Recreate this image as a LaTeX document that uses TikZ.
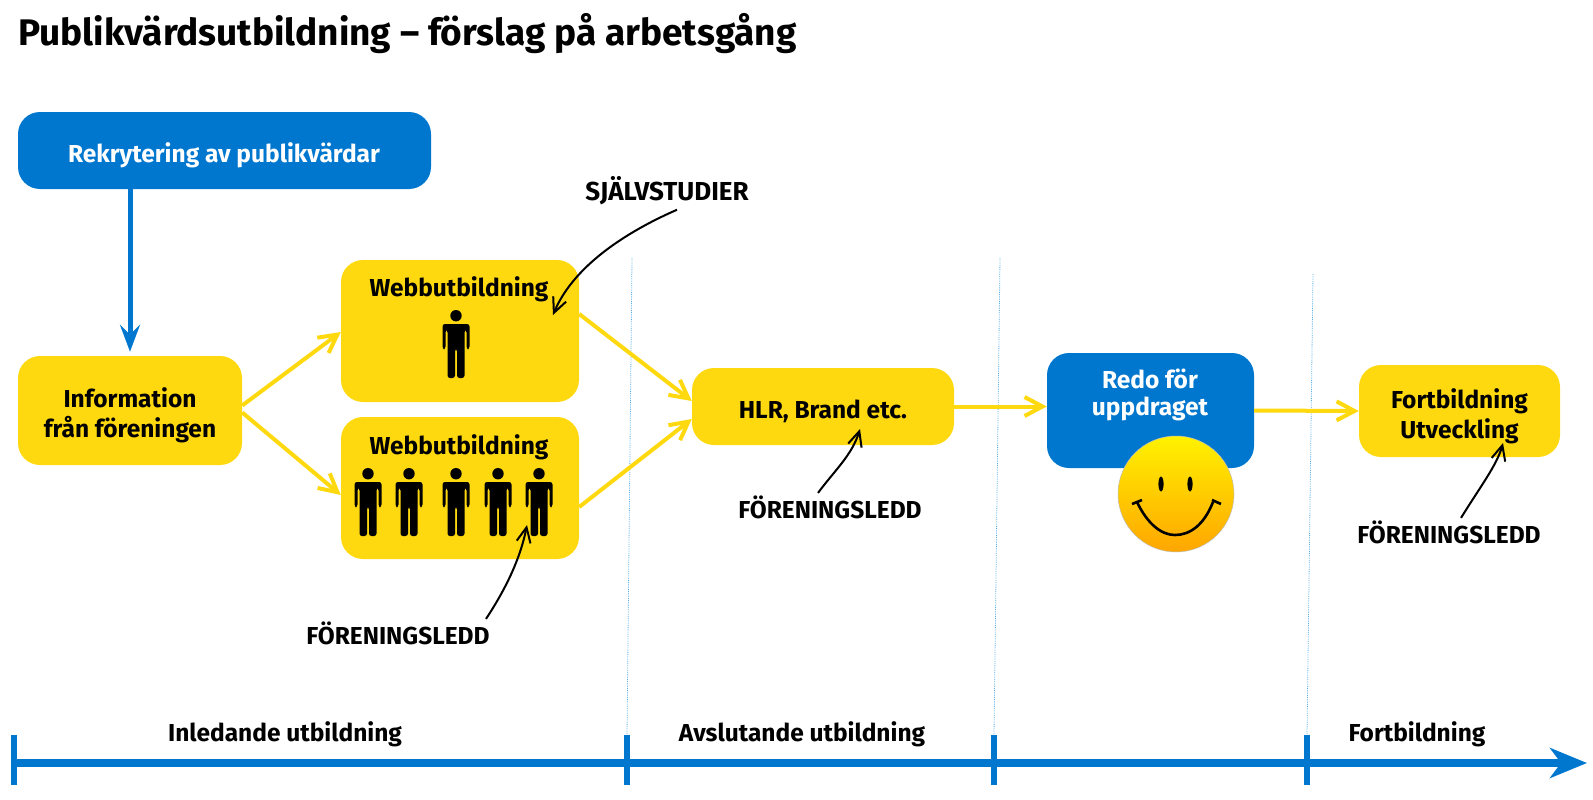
\documentclass[tikz,border=0pt]{standalone}
\usepackage{fontspec}
\setmainfont{Fira Sans}
\usetikzlibrary{arrows.meta}
\definecolor{boxyellow}{HTML}{FFD90F}
\definecolor{boxblue}{HTML}{0077CF}
\definecolor{dotblue}{HTML}{5AAEE8}
\tikzset{
  yellowbox/.style={fill=boxyellow,rounded corners=22pt,inner sep=0pt},
  bluebox/.style={yellowbox,fill=boxblue},
  boxtext/.style={align=center,inner sep=0pt,font=\fontsize{24.5}{30.5}\selectfont\bfseries},
  whitetext/.style={boxtext,text=white},
  flowarrow/.style={draw=boxyellow,line width=4pt,-{Straight Barb[length=18pt,width=19pt,line width=4pt]}},
  notearrow/.style={black,line width=2pt,-{Straight Barb[length=15pt,width=14pt,line width=2pt]}},
  notetext/.style={font=\fontsize{24.5}{28}\selectfont\bfseries},
  axistext/.style={font=\fontsize{24.5}{28}\selectfont\bfseries},
  person/.pic={
    \fill (0,-28.3) circle (5.7);
    \fill[rounded corners=2.5pt] (-13.5,5)--(-13.5,-20)--(13.5,-20)--(13.5,5)--(10.5,5)--(10.5,-14)--(8.5,-14)--(8.5,34)
      --(1,34)--(1,5)--(-1,5)--(-1,34)--(-8.5,34)--(-8.5,-14)--(-10.5,-14)--(-10.5,5)--cycle;
  }
}
\begin{document}
\begin{tikzpicture}[x=1pt,y=-1pt] % Arbetsgang
  \useasboundingbox (0,0) rectangle (1593,800);
  \node[anchor=west,inner sep=0pt,font=\fontsize{37}{40}\selectfont\bfseries] (title) at (18,34) {Publikvärdsutbildning – förslag på arbetsgång};
  % time axis
  \foreach \tickname/\xtop/\xtick/\ytop in {one/632/627/258,two/1000/994/258,three/1313/1307/274}{
    \coordinate (top\tickname) at (\xtop,\ytop);
    \coordinate (tick\tickname) at (\xtick,735);
    \draw[dotblue,line width=.8pt,densely dotted] (top\tickname)--(tick\tickname);
    \draw[boxblue,line width=6pt] (tick\tickname)--++(0,50);
  }
  \coordinate (axisstart) at (14,763);
  \coordinate (axisend) at (1587,763);
  \draw[boxblue,line width=6pt] (14,735)--(14,785);
  \draw[boxblue,line width=7.5pt,-{Stealth[length=37pt,width=30pt,inset=11pt]}] (axisstart)--(axisend);
  \node[axistext] (inledande) at (285,734) {Inledande utbildning};
  \node[axistext] (avslutande) at (802,734) {Avslutande utbildning};
  \node[axistext] (fortaxis) at (1417,734) {Fortbildning};
  % boxes
  \node[bluebox,minimum width=413pt,minimum height=77pt] (rekrytering) at (224.5,150.5) {};
  \node[yellowbox,minimum width=224pt,minimum height=109pt] (info) at (130,410.5) {};
  \node[yellowbox,minimum width=238pt,minimum height=142pt] (web1) at (460,331) {};
  \node[yellowbox,minimum width=238pt,minimum height=142pt] (web2) at (460,488) {};
  \node[yellowbox,minimum width=262pt,minimum height=77pt] (hlr) at (823,406.5) {};
  \node[bluebox,minimum width=207pt,minimum height=115pt] (redo) at (1150.5,410.5) {};
  \node[yellowbox,minimum width=201pt,minimum height=92pt] (fort) at (1459.5,411) {};
  \node[whitetext] (rekrytext) at (224,155) {Rekrytering av publikvärdar};
  \node[boxtext] (infotext) at (130,415.5) {Information\\från föreningen};
  \node[boxtext] (web1text) at (459,289) {Webbutbildning};
  \node[boxtext] (web2text) at (459,447) {Webbutbildning};
  \node[boxtext] (hlrtext) at (823,411.5) {HLR, Brand etc.};
  \node[whitetext,font=\fontsize{24.5}{27.5}\selectfont\bfseries] (redotext) at (1150,395) {Redo för\\uppdraget};
  \node[boxtext] (forttext) at (1459.5,416.5) {Fortbildning\\Utveckling};
  % people
  \pic at (456,344) {person};
  \foreach \xpos in {368,409,456,498,539}
    \pic at (\xpos,502) {person};
  % smiley
  \node[circle,minimum size=116pt,inner sep=0pt,top color=yellow!90!orange,bottom color=orange!70!yellow,draw=black!25,line width=.5pt] (smiley) at (1176,494) {};
  \fill (1161,484) ellipse (2.6 and 7.5);
  \fill (1190,484) ellipse (2.6 and 7.5);
  \draw[line width=2.6pt] (1137,502) .. controls (1148,525) and (1162,535) .. (1175,535) .. controls (1190,535) and (1204,525) .. (1213,502);
  \draw[line width=2.6pt] (1132,504)--(1142,500);
  \draw[line width=2.6pt] (1212,500)--(1221,504);
  % connectors
  \draw[boxblue,line width=5pt,-{Stealth[length=27pt,width=20pt,inset=10pt]}] (rekrytering.south -| info.north)--([yshift=4pt]info.north);
  \draw[flowarrow] ([yshift=5pt]info.east)--([yshift=-1pt]web1.west);
  \draw[flowarrow] ([yshift=-2pt]info.east)--([yshift=-7pt]web2.west);
  \draw[flowarrow] ([yshift=17pt]web1.east)--([yshift=5.5pt]hlr.west);
  \draw[flowarrow] ([yshift=-19pt]web2.east)--([yshift=-12.5pt]hlr.west);
  \draw[flowarrow] (hlr.east)--([yshift=4pt]redo.west);
  \draw[flowarrow] (redo.east)--(fort.west);
  % notes
  \node[notetext,font=\fontsize{26}{28}\selectfont\bfseries] (sjalv) at (667,191) {SJÄLVSTUDIER};
  \node[notetext] (foren1) at (398,633) {FÖRENINGSLEDD};
  \node[notetext] (foren2) at (830,507) {FÖRENINGSLEDD};
  \node[notetext] (foren3) at (1449,532) {FÖRENINGSLEDD};
  \coordinate (tipsjalv) at (553,315);
  \coordinate (tipfor1) at (527,525);
  \coordinate (tipfor2) at (860,429);
  \coordinate (tipfor3) at (1503,443);
  \draw[notearrow] ([xshift=10pt,yshift=-1pt]sjalv.south) .. controls (635,228) and (575,262) .. (tipsjalv);
  \draw[notearrow] ([xshift=88pt,yshift=-1pt]foren1.north) .. controls (505,590) and (520,560) .. (tipfor1);
  \draw[notearrow] ([xshift=-12pt,yshift=-1pt]foren2.north) .. controls (835,470) and (852,455) .. (tipfor2);
  \draw[notearrow] ([xshift=12pt,yshift=-1pt]foren3.north) .. controls (1480,487) and (1497,465) .. (tipfor3);
\end{tikzpicture}
\end{document}
